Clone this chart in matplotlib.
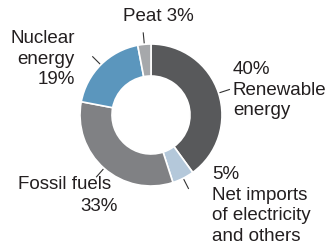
import matplotlib
matplotlib.use("Agg")
import matplotlib.pyplot as plt
import numpy as np

# Energy sources, clockwise from the top
sources = ["Renewable energy", "Net imports of electricity and others",
           "Fossil fuels", "Nuclear energy", "Peat"]
shares = [40, 5, 33, 19, 3]
colors = ["#58595b", "#b4c8da", "#808184", "#5b96bd", "#a6a8ab"]

plt.rcParams['font.family'] = ['Liberation Sans', 'DejaVu Sans']

W, H = 331, 246
fig = plt.figure(figsize=(W / 100, H / 100), dpi=100)
ax = fig.add_axes([0, 0, 1, 1])

cx, cy, R = 151, H - 115, 71
wedges, _ = ax.pie(shares, colors=colors, startangle=90, counterclock=False,
                   center=(cx, cy), radius=R,
                   wedgeprops=dict(width=32, edgecolor="white", linewidth=1.2))

# leader lines from the outer edge at each wedge's mid angle
for w in wedges:
    ang = np.deg2rad((w.theta1 + w.theta2) / 2)
    r0, r1 = R + 1, R + 12
    ax.plot([cx + r0 * np.cos(ang), cx + r1 * np.cos(ang)],
            [cy + r0 * np.sin(ang), cy + r1 * np.sin(ang)],
            color="#333333", lw=0.8, solid_capstyle="butt")

fs = 13.5
tc = "#231f20"
ls = 1.27
ax.text(158, H - 8, f"Peat {shares[4]}%", fontsize=fs, color=tc,
        ha="center", va="top")
ax.text(75, H - 30, f"Nuclear\nenergy\n{shares[3]}%", fontsize=fs, color=tc,
        ha="right", va="top", linespacing=ls)
ax.text(233, H - 61, f"{shares[0]}%\nRenewable\nenergy", fontsize=fs, color=tc,
        ha="left", va="top", linespacing=ls)
ax.text(212, H - 166, f"{shares[1]}%\nNet imports\nof electricity\nand others",
        fontsize=fs, color=tc, ha="left", va="top", linespacing=ls)
ax.text(111, H - 176, "Fossil fuels", fontsize=fs, color=tc, ha="right", va="top")
ax.text(118, H - 198, f"{shares[2]}%", fontsize=fs, color=tc, ha="right", va="top")

ax.set_xlim(0, W)
ax.set_ylim(0, H)
ax.set_aspect("equal")
ax.axis("off")

fig.savefig("out.png", dpi=100)
